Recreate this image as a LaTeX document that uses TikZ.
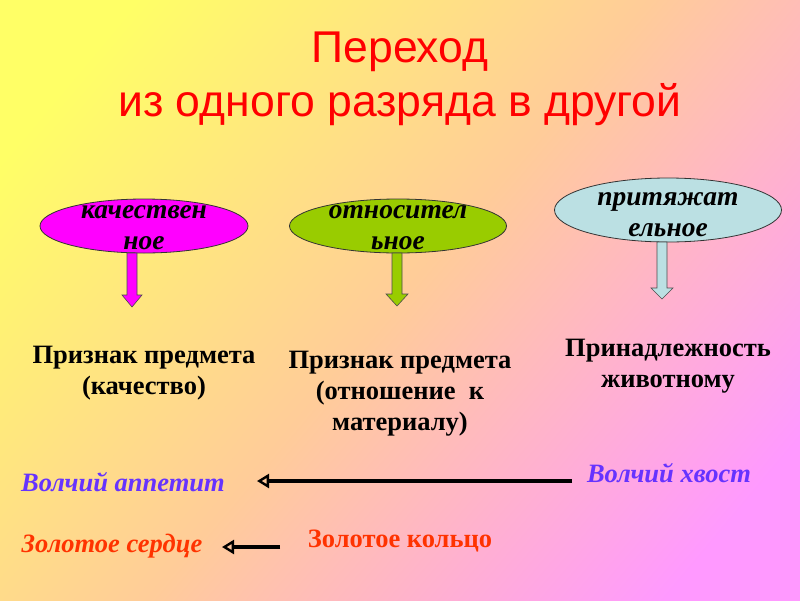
\documentclass[tikz,border=0pt]{standalone}
\usepackage{fontspec}
\setmainfont{Liberation Serif}
\newfontfamily\arialf{Liberation Sans}
\usetikzlibrary{shapes.geometric,arrows.meta,calc}
\definecolor{bgY}{HTML}{FFFF66}
\definecolor{bgP}{HTML}{FFCC99}
\definecolor{bgK}{HTML}{FF99FF}
\definecolor{cMag}{HTML}{FF00FF}
\definecolor{cGrn}{HTML}{99CC00}
\definecolor{cBlu}{HTML}{BBE0E3}
\definecolor{cVio}{HTML}{6633FF}
\definecolor{cOrg}{HTML}{FF3300}
\pgfdeclarehorizontalshading{bgshade}{100bp}{color(0bp)=(bgY); color(22bp)=(bgY); color(50bp)=(bgP); color(78bp)=(bgK); color(100bp)=(bgK)}
\tikzset{
  oval/.style={ellipse, draw=black!80, line width=0.8pt, inner sep=0pt},
  ovaltext/.style={font=\bfseries\itshape\fontsize{27.5}{31}\selectfont, align=center, inner sep=0pt},
  label/.style={font=\bfseries\fontsize{26.5}{31}\selectfont, align=center, inner sep=0pt},
  bottomtext/.style={font=\bfseries\itshape\fontsize{26.5}{30}\selectfont, inner sep=0pt},
  blockarrow/.style={draw=black!70, line width=0.6pt},
  thinarrow/.style={line width=3.4pt, -{Triangle[open, length=12pt, width=14pt, line width=2.4pt]}}
}
\begin{document}
\begin{tikzpicture}[x=1pt, y=-1pt]
\useasboundingbox (0,0) rectangle (800,600);
\shade[shading=bgshade, shading angle=-40] (0,0) rectangle (800,600);

% title
\node[font=\arialf\fontsize{44.5}{54}\selectfont, text=red, align=center, inner sep=0pt] (title) at (400,79) {Переход\\из одного разряда в другой};

% ovals
\node[oval, fill=cMag, minimum width=208pt, minimum height=54pt] (e1) at (144,226) {};
\node[oval, fill=cGrn, minimum width=217pt, minimum height=54pt] (e2) at (398,226) {};
\node[oval, fill=cBlu, minimum width=227pt, minimum height=64pt] (e3) at (668,210) {};

% block arrows
\filldraw[blockarrow, fill=cMag] (127,253) -- (137,253) -- (137,295) -- (142,295) -- (132,307) -- (122,295) -- (127,295) -- cycle;
\filldraw[blockarrow, fill=cGrn] (392,253) -- (402,253) -- (402,294) -- (408,294) -- (397,306) -- (386,294) -- (392,294) -- cycle;
\filldraw[blockarrow, fill=cBlu] (657,242) -- (667,242) -- (667,288) -- (673,288) -- (662,299) -- (651,288) -- (657,288) -- cycle;

\node[ovaltext] (t1) at (e1.center) [yshift=-2pt] {качествен\\ное};
\node[ovaltext] (t2) at (e2.center) [yshift=-2pt] {относител\\ьное};
\node[ovaltext] (t3) at (e3.center) [yshift=-5pt] {притяжат\\ельное};

% labels
\node[label] (l1) at (144,373) {Признак предмета\\(качество)};
\node[label] (l2) at (400,394) {Признак предмета\\(отношение\ \ к\\материалу)};
\node[label] (l3) at (668,366) {Принадлежность\\животному};

% bottom
\node[bottomtext, text=cVio] (wa) at (123,482) {Волчий аппетит};
\node[bottomtext, text=cVio] (wx) at (669,473) {Волчий хвост};
\node[bottomtext, text=cOrg] (zs) at (112,546) {Золотое сердце};
\node[font=\bfseries\fontsize{26.5}{30}\selectfont, inner sep=0pt, text=cOrg] (zk) at (400,541) {Золотое кольцо};

\coordinate (a1s) at (572,481);
\coordinate (a1e) at (257,481);
\coordinate (a2s) at (280,547);
\coordinate (a2e) at (222,547);
\draw[thinarrow] (a1s) -- (a1e);
\draw[thinarrow] (a2s) -- (a2e);
\end{tikzpicture}
\end{document}
